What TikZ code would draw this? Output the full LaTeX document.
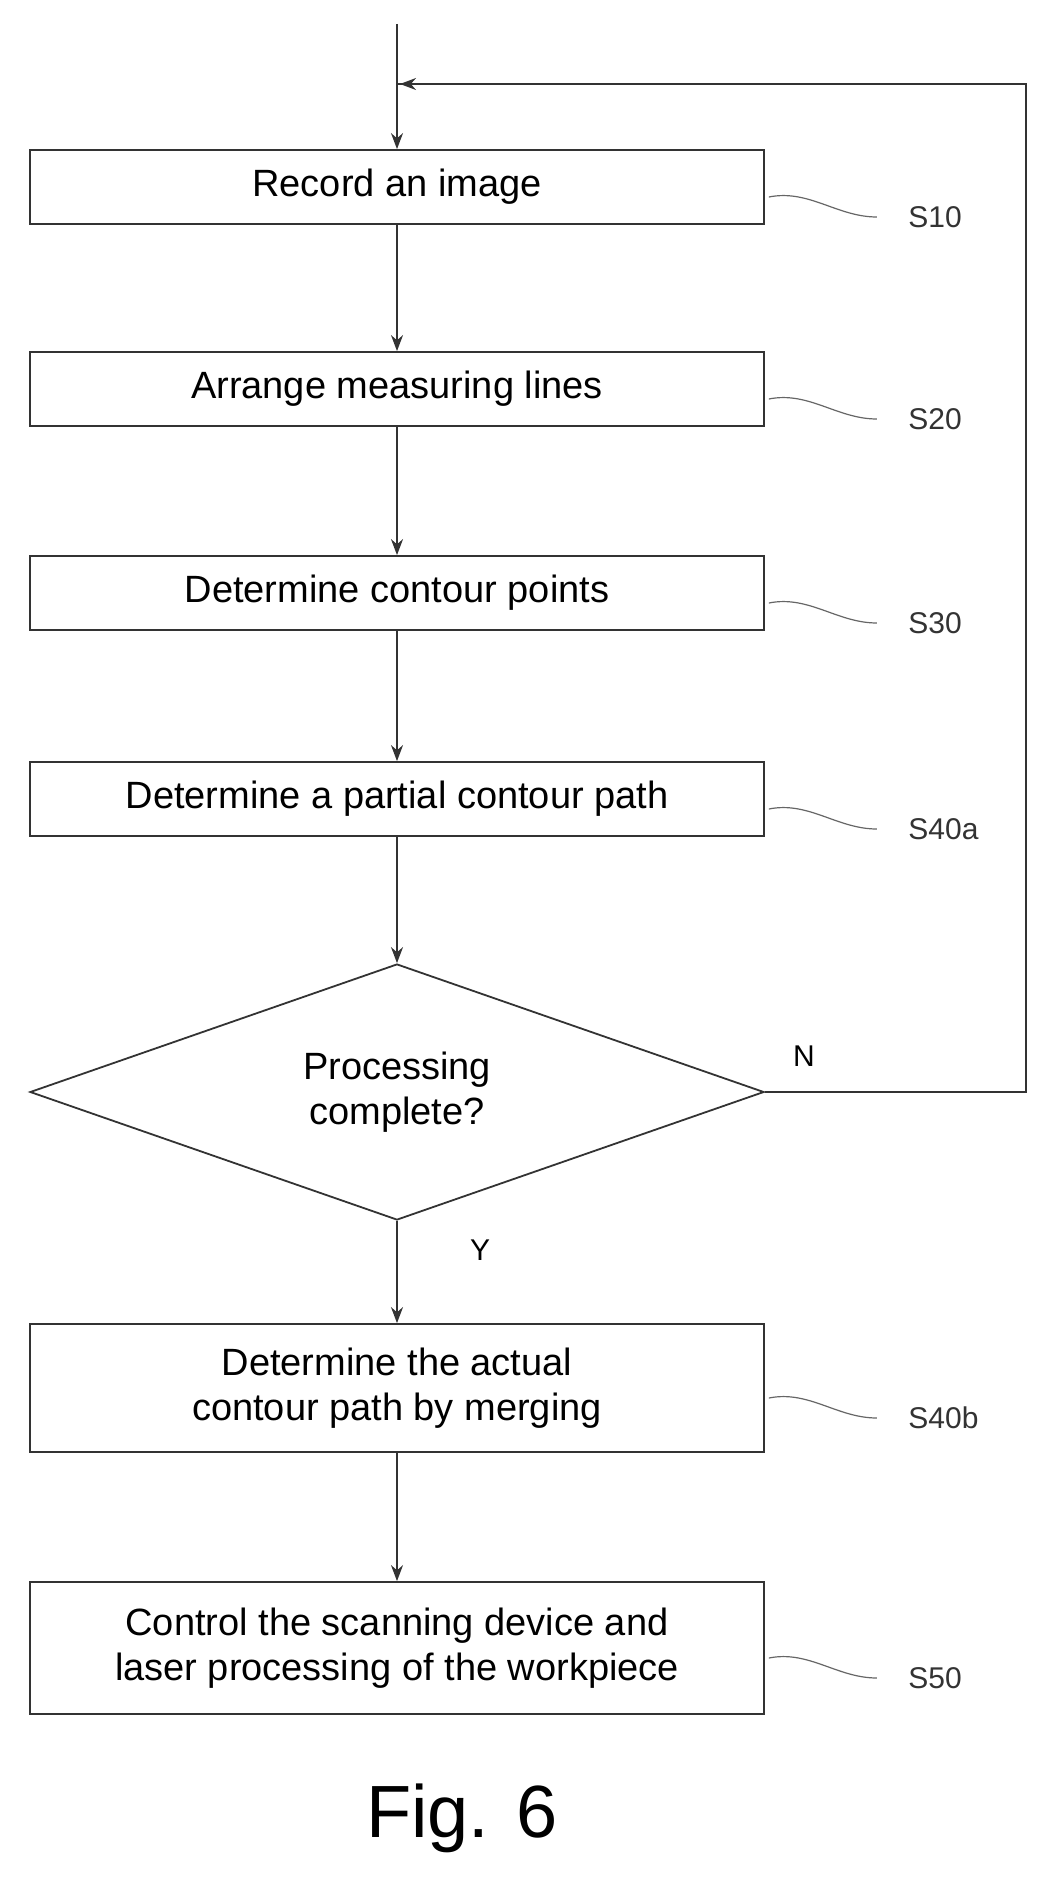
\documentclass[tikz,border=0pt]{standalone}
\usepackage{fontspec}
\setmainfont{Liberation Sans}
\usetikzlibrary{shapes.geometric,arrows.meta}
\begin{document}
\begin{tikzpicture}[x=1pt,y=-1pt,
  line/.style={draw=black!80,line width=1.8pt},
  box/.style={line,rectangle,minimum width=734pt,inner sep=0pt,font=\fontsize{38}{45}\selectfont,align=center},
  arr/.style={line,-{Stealth[length=16pt,width=12pt]}},
  lab/.style={font=\fontsize{30}{34}\selectfont,text=black!80},
  sq/.style={draw=black!60,line width=1.2pt}]
\useasboundingbox (0,0) rectangle (1058,1897);
\node[box,minimum height=74pt] (b1) at (397,187) {Record an image};
\node[box,minimum height=74pt] (b2) at (397,389) {Arrange measuring lines};
\node[box,minimum height=74pt] (b3) at (397,593) {Determine contour points};
\node[box,minimum height=74pt] (b4) at (397,799) {Determine a partial contour path};
\node[line,diamond,minimum width=734pt,minimum height=256pt,inner sep=0pt,aspect=2.87,font=\fontsize{38}{45}\selectfont,align=center] (d) at (397,1092) {Processing\\complete?};
\node[box,minimum height=128pt] (b5) at (397,1388) {Determine the actual\\contour path by merging};
\node[box,minimum height=132pt] (b6) at (397,1648) {Control the scanning device and\\laser processing of the workpiece};
\coordinate (top) at (397,24);
\coordinate (fr) at (1026,1092);
\coordinate (ftop) at (1026,84);
\coordinate (fin) at (397,84);
\draw[arr] (top) -- (b1.north);
\draw[arr] (b1) -- (b2);
\draw[arr] (b2) -- (b3);
\draw[arr] (b3) -- (b4);
\draw[arr] (b4) -- (d.north);
\draw[arr] (d.south) -- (b5);
\draw[arr] (b5) -- (b6);
\draw[line] (d.east) -- (fr) -- (ftop) -- (fin);
\draw[arr] (ftop) -- ([xshift=3pt]fin);
\node[font=\fontsize{30}{34}\selectfont] (n) at (804,1056) {N};
\node[font=\fontsize{30}{34}\selectfont] (y) at (480,1250) {Y};
\foreach \b/\t in {b1/S10,b2/S20,b3/S30,b4/S40a,b5/S40b,b6/S50}{
  \node[lab,anchor=west] (l\t) at ([xshift=140pt,yshift=-30pt]\b.east) {\t};
  \draw[sq] ([xshift=4pt,yshift=-10pt]\b.east) .. controls +(40,-8) and +(-40,0) .. ([xshift=112pt,yshift=-30pt]\b.east);
}
\node[font=\fontsize{74}{80}\selectfont] (fig) at (462,1818) {Fig. 6};
\end{tikzpicture}
\end{document}
